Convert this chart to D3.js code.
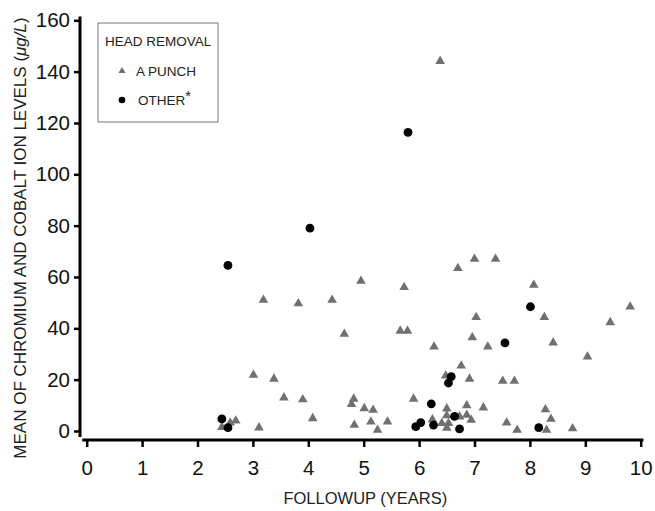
<!DOCTYPE html>
<html>
<head>
<meta charset="utf-8">
<script src="https://cdn.jsdelivr.net/npm/d3@7"></script>
<style>
  body { margin: 0; background: #fff; }
  text { font-family: "Liberation Sans", Arial, sans-serif; }
</style>
</head>
<body>
<svg id="chart" width="655" height="511"></svg>
<script>
// A PUNCH group: [followup years, mean ion level]
var punchYears = [2.44, 2.59, 2.69, 3.11, 3.01, 3.38, 3.56, 3.90, 4.08, 3.19, 3.82,
  4.43, 4.95, 5.73, 4.65, 5.66, 5.79, 4.82, 4.78, 5.01, 5.17, 4.83, 5.13, 5.43, 5.25, 5.90,
  6.38, 7.00, 7.38, 6.70, 7.03, 6.96, 7.24, 6.27, 6.76, 6.91, 7.51, 7.72, 6.48,
  6.86, 7.16, 6.50, 6.50, 6.73, 6.86, 6.94, 6.41, 6.53, 6.50, 6.24, 7.58, 7.77,
  8.07, 8.26, 8.42, 9.45, 9.81, 9.04, 8.28, 8.38, 8.30, 8.77];
var punchLevels = [1.5, 3.2, 4.0, 1.3, 21.8, 20.3, 13.0, 12.3, 4.9, 51.0, 49.7,
  51.0, 58.4, 56.0, 37.8, 39.0, 39.0, 12.5, 10.4, 8.8, 8.2, 2.3, 3.6, 3.6, 0.4, 12.5,
  144.1, 67.0, 67.0, 63.4, 44.3, 36.4, 32.8, 32.8, 25.4, 20.3, 19.5, 19.5, 21.5,
  9.9, 9.1, 8.7, 6.0, 5.6, 6.2, 4.3, 3.0, 3.0, 1.2, 4.5, 3.2, 0.4,
  56.9, 44.3, 34.4, 42.3, 48.4, 28.9, 8.4, 4.7, 0.4, 1.0];

// OTHER group
var otherYears = [2.55, 2.44, 2.55, 4.03, 5.80, 8.01, 7.55, 6.58, 6.53, 6.22,
  6.64, 6.26, 6.73, 5.94, 6.03, 8.16];
var otherLevels = [64.5, 4.7, 1.3, 79.0, 116.3, 48.4, 34.3, 21.2, 18.7, 10.6,
  5.7, 2.3, 0.8, 1.7, 3.3, 1.3];

var xTicks = [0, 1, 2, 3, 4, 5, 6, 7, 8, 9, 10];
var yTicks = [0, 20, 40, 60, 80, 100, 120, 140, 160];

var punch = punchYears.map((d, i) => ({ x: d, y: punchLevels[i] }));
var other = otherYears.map((d, i) => ({ x: d, y: otherLevels[i] }));

var svg = d3.select('#chart');
var triColor = '#707070';

var x = d3.scaleLinear().domain([0, 10]).range([86.7, 640.7]);
var y = d3.scaleLinear().domain([0, 160]).range([431, 20.3]);
var xAxisY = 440;
var yAxisX = 80;

// axes
var yAxis = svg.append('g')
    .attr('transform', 'translate(' + yAxisX + ',0)')
    .call(d3.axisLeft(y).tickValues(yTicks).tickSize(6).tickSizeOuter(0).tickPadding(4));
yAxis.select('.domain').remove();
yAxis.selectAll('.tick line').attr('stroke', '#000').attr('stroke-width', 2.5);
yAxis.selectAll('.tick text')
    .attr('font-size', '20.5px')
    .attr('fill', '#111')
    .attr('font-family', '"Liberation Sans", Arial, sans-serif');

var xAxis = svg.append('g')
    .attr('transform', 'translate(0,' + xAxisY + ')')
    .call(d3.axisBottom(x).tickValues(xTicks).tickSize(7).tickSizeOuter(0).tickPadding(13));
xAxis.select('.domain').remove();
xAxis.selectAll('.tick line').attr('stroke', '#000').attr('stroke-width', 2.5);
xAxis.selectAll('.tick text')
    .attr('font-size', '20.5px')
    .attr('fill', '#111')
    .attr('font-family', '"Liberation Sans", Arial, sans-serif');

svg.append('line')
    .attr('x1', yAxisX).attr('x2', yAxisX)
    .attr('y1', y(161.5)).attr('y2', xAxisY - 3)
    .attr('stroke', '#000').attr('stroke-width', 3);
svg.append('line')
    .attr('x1', x(-0.08)).attr('x2', x(10.05))
    .attr('y1', xAxisY).attr('y2', xAxisY)
    .attr('stroke', '#000').attr('stroke-width', 3);

// axis titles
svg.append('text')
    .attr('x', x(5.03))
    .attr('y', 504)
    .attr('text-anchor', 'middle')
    .attr('font-size', '16.5px')
    .attr('fill', '#222')
    .text('FOLLOWUP (YEARS)');

var yTitle = svg.append('text')
    .attr('transform', 'translate(26,238) rotate(-90)')
    .attr('text-anchor', 'middle')
    .attr('font-size', '17px')
    .attr('fill', '#222');
yTitle.append('tspan').text('MEAN OF CHROMIUM AND COBALT ION LEVELS (');
yTitle.append('tspan').attr('font-style', 'italic').text('\u03bcg/L');
yTitle.append('tspan').text(')');

// points
var tri = d3.symbol().type(d3.symbolTriangle).size(40);
svg.append('g').selectAll('path')
    .data(punch)
  .enter().append('path')
    .attr('d', tri)
    .attr('transform', d => 'translate(' + x(d.x) + ',' + y(d.y) + ')')
    .attr('fill', triColor);

svg.append('g').selectAll('circle')
    .data(other)
  .enter().append('circle')
    .attr('cx', d => x(d.x))
    .attr('cy', d => y(d.y))
    .attr('r', 4.4)
    .attr('fill', '#000');

// legend
var legend = svg.append('g');
legend.append('rect')
    .attr('x', 98).attr('y', 23)
    .attr('width', 120).attr('height', 99)
    .attr('fill', 'none')
    .attr('stroke', '#777')
    .attr('stroke-width', 1);
legend.append('text')
    .attr('x', 105).attr('y', 46)
    .attr('font-size', '13.5px')
    .attr('fill', '#222')
    .text('HEAD REMOVAL');
legend.append('path')
    .attr('d', d3.symbol().type(d3.symbolTriangle).size(22))
    .attr('transform', 'translate(122,71)')
    .attr('fill', triColor);
legend.append('text')
    .attr('x', 136).attr('y', 76)
    .attr('font-size', '13.5px')
    .attr('fill', '#222')
    .text('A PUNCH');
legend.append('circle')
    .attr('cx', 122).attr('cy', 100)
    .attr('r', 3.3)
    .attr('fill', '#000');
var oth = legend.append('text')
    .attr('x', 138).attr('y', 105)
    .attr('font-size', '13.5px')
    .attr('fill', '#222');
oth.append('tspan').text('OTHER');
oth.append('tspan').attr('dy', -4).attr('font-size', '15px').text('*');
</script>
</body>
</html>
